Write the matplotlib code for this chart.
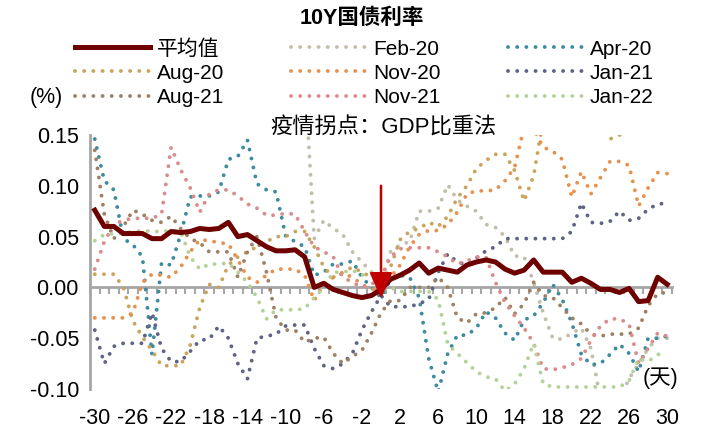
import numpy as np
import matplotlib
matplotlib.use("Agg")
import matplotlib.pyplot as plt

plt.rcParams['font.family'] = ['Liberation Sans', 'Noto Sans CJK SC']
plt.rcParams['axes.unicode_minus'] = False

nan = np.nan
days = np.arange(-30, 31)

# values, days -30 .. 30 (nan = above the plot, not readable)
mean_val = [0.076, 0.060, 0.060, 0.053, 0.053, 0.053, 0.048, 0.048, 0.055, 0.054,
            0.055, 0.058, 0.057, 0.058, 0.064, 0.050, 0.052, 0.046, 0.040, 0.036,
            0.036, 0.037, 0.030, 0.000, 0.004, -0.002, -0.005, -0.008, -0.010, -0.008,
            -0.002,
            0.008, 0.012, 0.017, 0.024, 0.014, 0.019, 0.017, 0.015, 0.022, 0.025,
            0.027, 0.025, 0.018, 0.014, 0.017, 0.027, 0.015, 0.015, 0.015, 0.005,
            0.009, 0.004, -0.002, -0.002, -0.005, -0.001, -0.014, -0.013, 0.010, 0.003]

feb20 = [nan] * 22 + [
            0.210, 0.048, 0.066, 0.058, 0.052, 0.035, 0.025, 0.015,
            0.005,
            0.035, 0.042, 0.045, 0.075, 0.075, 0.078, 0.101, 0.086, 0.080, 0.075,
            0.062, 0.059, 0.050, 0.031, 0.030, 0.005, -0.025, -0.050, -0.051, -0.045,
            -0.040, -0.060, -0.110, -0.115, -0.110, -0.090, -0.075, -0.060, -0.050, -0.050]

apr20 = [0.146, 0.105, 0.096, 0.048, 0.042, 0.030, -0.066, 0.024, 0.022, 0.052,
         0.089, 0.090, 0.090, 0.094, 0.126, 0.129, 0.145, 0.102, 0.096, 0.094,
         0.051, 0.045, 0.040, 0.012, 0.015, 0.023, 0.023, 0.026, 0.010, 0.000,
         -0.010,
         0.008, 0.012, 0.010, -0.010, -0.070, -0.103, -0.065, -0.047, -0.047, -0.040,
         -0.024, -0.030, -0.045, -0.052, -0.032, -0.028, -0.015, 0.003, -0.012, -0.035,
         -0.066, -0.076, -0.075, -0.066, -0.056, -0.065, -0.083, -0.050, -0.050, -0.048]

aug20 = [0.013, 0.013, 0.013, 0.000, -0.033, -0.049, -0.062, -0.077, -0.077, -0.077,
         -0.057, -0.020, 0.003, 0.000, 0.022, 0.030, 0.035, 0.040, 0.045, 0.050,
         0.050, 0.055, 0.055, 0.040, 0.020, 0.010, 0.015, 0.020, 0.015, 0.010,
         0.005,
         0.020, 0.047, 0.055, 0.058, 0.064, 0.060, 0.070, 0.088, 0.100, 0.117,
         0.125, 0.131, 0.131, 0.115, 0.085, 0.110, 0.165, nan, nan, nan,
         nan, nan, 0.160, 0.146, 0.150, 0.165, nan, nan, nan, nan]

nov20 = [-0.030, -0.030, -0.030, -0.030, -0.025, 0.005, 0.013, 0.012, 0.010, 0.020,
         0.035, 0.047, 0.046, 0.044, 0.043, 0.027, 0.010, 0.005, 0.012, 0.018,
         0.018, 0.018, 0.012, -0.013, 0.003, 0.010, 0.014, 0.010, 0.003, -0.002,
         0.000,
         0.010, 0.022, 0.040, 0.052, 0.056, 0.056, 0.062, 0.074, 0.092, 0.095,
         0.095, 0.096, 0.105, 0.118, 0.158, 0.156, 0.138, 0.134, 0.126, 0.089,
         0.114, 0.092, 0.108, 0.124, 0.124, 0.120, 0.080, 0.098, 0.113, 0.112]

jan21 = [-0.042, -0.075, -0.058, -0.055, -0.055, -0.055, -0.025, -0.060, -0.073, -0.073,
         -0.063, -0.052, -0.051, -0.038, -0.050, -0.075, -0.090, -0.050, -0.048, -0.046,
         -0.038, -0.037, -0.037, -0.060, -0.077, -0.080, -0.075, -0.065, -0.042, -0.024,
         -0.008,
         -0.019, -0.019, -0.019, -0.016, -0.012, 0.015, 0.033, 0.025, 0.022, 0.029,
         0.036, 0.040, 0.048, 0.048, 0.048, 0.048, 0.048, 0.048, 0.048, 0.055,
         0.083, 0.064, 0.063, 0.065, 0.075, 0.066, 0.068, 0.077, 0.082, 0.083]

aug21 = [0.135, 0.072, 0.048, 0.060, 0.076, 0.072, 0.066, 0.064, 0.070, 0.058,
         0.048, 0.044, 0.035, 0.035, 0.035, 0.010, 0.035, 0.050, 0.015, -0.030,
         -0.042, -0.042, -0.054, -0.050, -0.049, -0.065, -0.075, -0.068, -0.062, -0.045,
         -0.025,
         -0.013, -0.013, 0.000, 0.000, 0.000, 0.010, 0.000, -0.030, -0.035, -0.026,
         -0.025, -0.020, -0.010, -0.026, -0.016, 0.005, -0.008, -0.010, -0.020, -0.030,
         -0.036, -0.046, -0.048, -0.046, -0.046, -0.046, -0.040, -0.018, -0.006, -0.005]

nov21 = [0.018, 0.045, 0.062, 0.066, 0.068, 0.068, 0.068, 0.072, 0.138, 0.116,
         0.098, 0.074, 0.092, 0.096, 0.096, 0.090, 0.082, 0.078, 0.071, 0.071,
         0.073, 0.072, 0.055, 0.040, 0.035, 0.030, 0.010, 0.005, 0.000, 0.003,
         0.010,
         0.030, 0.038, 0.039, 0.039, 0.039, 0.035, 0.030, 0.023, 0.026, 0.030,
         0.030, 0.005, -0.015, -0.028, -0.040, -0.055, -0.080, -0.081, -0.079, -0.076,
         -0.070, -0.052, -0.038, -0.031, -0.031, -0.036, -0.075, -0.060, -0.045, -0.048]

jan22 = [0.046, 0.052, 0.053, 0.053, 0.055, 0.056, 0.055, 0.055, 0.056, 0.055,
         0.030, 0.018, 0.023, 0.023, 0.024, 0.015, 0.005, -0.010, -0.031, -0.022,
         -0.022, -0.022, -0.021, -0.010, 0.000, 0.015, 0.015, 0.017, 0.012, 0.015,
         0.005,
         0.000, -0.004, -0.004, -0.004, -0.004, -0.012, -0.056, -0.065, -0.074, -0.083,
         -0.088, -0.090, -0.102, -0.095, -0.080, -0.055, -0.095, -0.098, -0.098, -0.098,
         -0.098, -0.098, -0.098, -0.098, -0.098, -0.092, -0.070, -0.073, -0.066, -0.065]

series = [
    ("Feb-20", feb20, "#C2BEAC"),
    ("Apr-20", apr20, "#3C8C9E"),
    ("Aug-20", aug20, "#C9A45C"),
    ("Nov-20", nov20, "#E8914F"),
    ("Jan-21", jan21, "#5F6385"),
    ("Aug-21", aug21, "#9E8165"),
    ("Nov-21", nov21, "#DA8C8C"),
    ("Jan-22", jan22, "#B6D197"),
]
legend_order = ["平均值", "Aug-20", "Aug-21", "Feb-20", "Nov-20", "Nov-21",
                "Apr-20", "Jan-21", "Jan-22"]

grey = "#A6A6A6"
fs = 15.5

fig = plt.figure(figsize=(7.05, 4.42), dpi=100)
ax = fig.add_axes([90 / 705, 53 / 442, 582 / 705, 254 / 442])

handles = {}
for name, vals, col in series:
    ln, = ax.plot(days, vals, color=col, lw=2.8, ls=(0, (0.01, 2.35)),
                  dash_capstyle="round", label=name)
    handles[name] = ln
ln, = ax.plot(days, mean_val, color="#6E0000", lw=3.6, label="平均值", zorder=5)
handles["平均值"] = ln

ymin, ymax = -0.10, 0.15
ax.set_xlim(-30.5, 30.5)
ax.set_ylim(ymin, ymax)
ax.set_yticks(np.arange(-0.10, 0.151, 0.05))
ax.set_yticklabels(["%.2f" % v for v in np.arange(-0.10, 0.151, 0.05)])
ax.set_xticks(np.arange(-30, 31, 4))
ax.tick_params(axis="x", length=0, pad=14, labelsize=fs)
ax.tick_params(axis="y", length=0, pad=8, labelsize=fs)
for s in ["top", "right", "bottom"]:
    ax.spines[s].set_visible(False)
ax.spines["left"].set_color(grey)
ax.spines["left"].set_linewidth(2)

# zero line with a tick between every day
sec = ax.secondary_xaxis((0 - ymin) / (ymax - ymin))
sec.set_xticks(np.arange(-30.5, 31, 1.0))
sec.tick_params(axis="x", direction="out", length=5, width=1.5, color=grey,
                labelbottom=False, labeltop=False)
sec.spines["bottom"].set_color(grey)
sec.spines["bottom"].set_linewidth(2)

ax.annotate("", xy=(0, -0.011), xytext=(0, 0.10),
            arrowprops=dict(arrowstyle="-|>,head_length=0.8,head_width=0.35",
                            color="#C00000", lw=1.8, shrinkA=0, shrinkB=0,
                            mutation_scale=20), zorder=10)

fig.text(362 / 705, 1 - 18 / 442, "10Y国债利率", ha="center", va="center",
         fontsize=fs, fontweight="bold")
fig.text(46 / 705, 1 - 97 / 442, "(%)", ha="center", va="center", fontsize=fs)
fig.text(660 / 705, 1 - 378 / 442, "(天)", ha="center", va="center", fontsize=fs)
fig.text(383 / 705, 1 - 128 / 442, "疫情拐点：GDP比重法", ha="center", va="center",
         fontsize=16)

fig.legend([handles[k] for k in legend_order], legend_order, ncol=3,
           loc="upper left", bbox_to_anchor=(75 / 705, 1 - 39 / 442),
           frameon=False, fontsize=15, handlelength=3.6, handletextpad=0.35,
           columnspacing=3.2, labelspacing=0.25, borderpad=0, borderaxespad=0)

fig.savefig("out.png", dpi=100)
